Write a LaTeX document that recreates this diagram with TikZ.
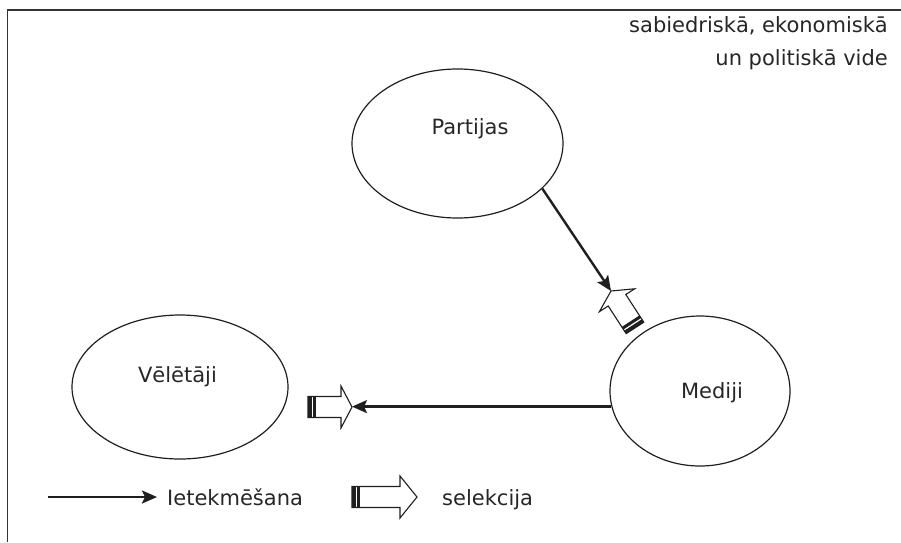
\documentclass[tikz,border=0pt]{standalone}
\usepackage{fontspec}
\setmainfont{DejaVu Sans}
\usetikzlibrary{shapes.geometric,arrows.meta}
\begin{document}
\begin{tikzpicture}[x=1pt,y=-1pt,
  bubble/.style={ellipse, draw=black!88, line width=1.2pt, inner sep=0pt},
  lbl/.style={font=\fontsize{21}{25}\selectfont, text=black!85, inner sep=0pt},
  infl/.style={draw=black!88, line width=2.4pt,
    -{Stealth[length=15pt,width=13pt,inset=3pt]}},
  frameline/.style={draw=black!80, line width=1.8pt},
  % hollow "selection" arrow, tip at the origin pointing along +x;
  % #1 = total length, #2 = head length
  pics/selarrow/.style 2 args={code={
    \draw[draw=black!88, line width=1.1pt, fill=white, line join=miter]
      (0,0) -- (-#2,-21) -- (-#2,-10.5) -- (-#1,-10.5) -- (-#1,10.5)
      -- (-#2,10.5) -- (-#2,21) -- cycle;
    \fill[black!88] (-#1,-10.5) rectangle (-#1+3.5,10.5);
    \fill[black!88] (-#1+5,-10.5) rectangle (-#1+8,10.5);
  }}
]
\useasboundingbox (0,0) rectangle (901,542);

% surrounding frame (top and left edges)
\coordinate (frBL) at (7.5,542);
\coordinate (frTL) at (7.5,10);
\coordinate (frTR) at (901,10);
\draw[frameline] (frBL) -- (frTL) -- (frTR);

% environment caption
\node[lbl, anchor=base east] (env1) at (888,32) {sabiedriskā, ekonomiskā};
\node[lbl, anchor=base east] (env2) at (888,65) {un politiskā vide};

% actors
\node[bubble, minimum width=211pt, minimum height=149pt] (partijas) at (457.5,143.5) {};
\node[bubble, minimum width=216pt, minimum height=144pt] (veletaji) at (180,387) {};
\node[bubble, minimum width=180pt, minimum height=150pt] (mediji) at (700,391) {};
\node[lbl, anchor=base] (tPartijas) at (470,134) {Partijas};
\node[lbl, anchor=base] (tVeletaji) at (177.5,382) {Vēlētāji};
\node[lbl, anchor=base] (tMediji) at (712,398) {Mediji};

% influence from parties to media, selection by media
\coordinate (selP) at (611,291);
\draw[infl] (partijas.-28) -- (selP);
\pic[rotate=123] at (selP) {selarrow={44}{11}};

% influence from media to voters, selection by voters
\coordinate (selV) at (352,407);
\draw[infl] (mediji.190) -- (mediji.190 -| selV);
\pic at (selV) {selarrow={44}{11}};

% legend
\coordinate (legA) at (48,497);
\node[lbl, anchor=base west] (legInfl) at (167,505) {Ietekmēšana};
\draw[infl, shorten >=10pt] (legA) -- (legA -| legInfl.west);
\coordinate (legS) at (417,497);
\pic at (legS) {selarrow={65}{17}};
\node[lbl, anchor=base west] (legSel) at (442,505) {selekcija};
\end{tikzpicture}
\end{document}
